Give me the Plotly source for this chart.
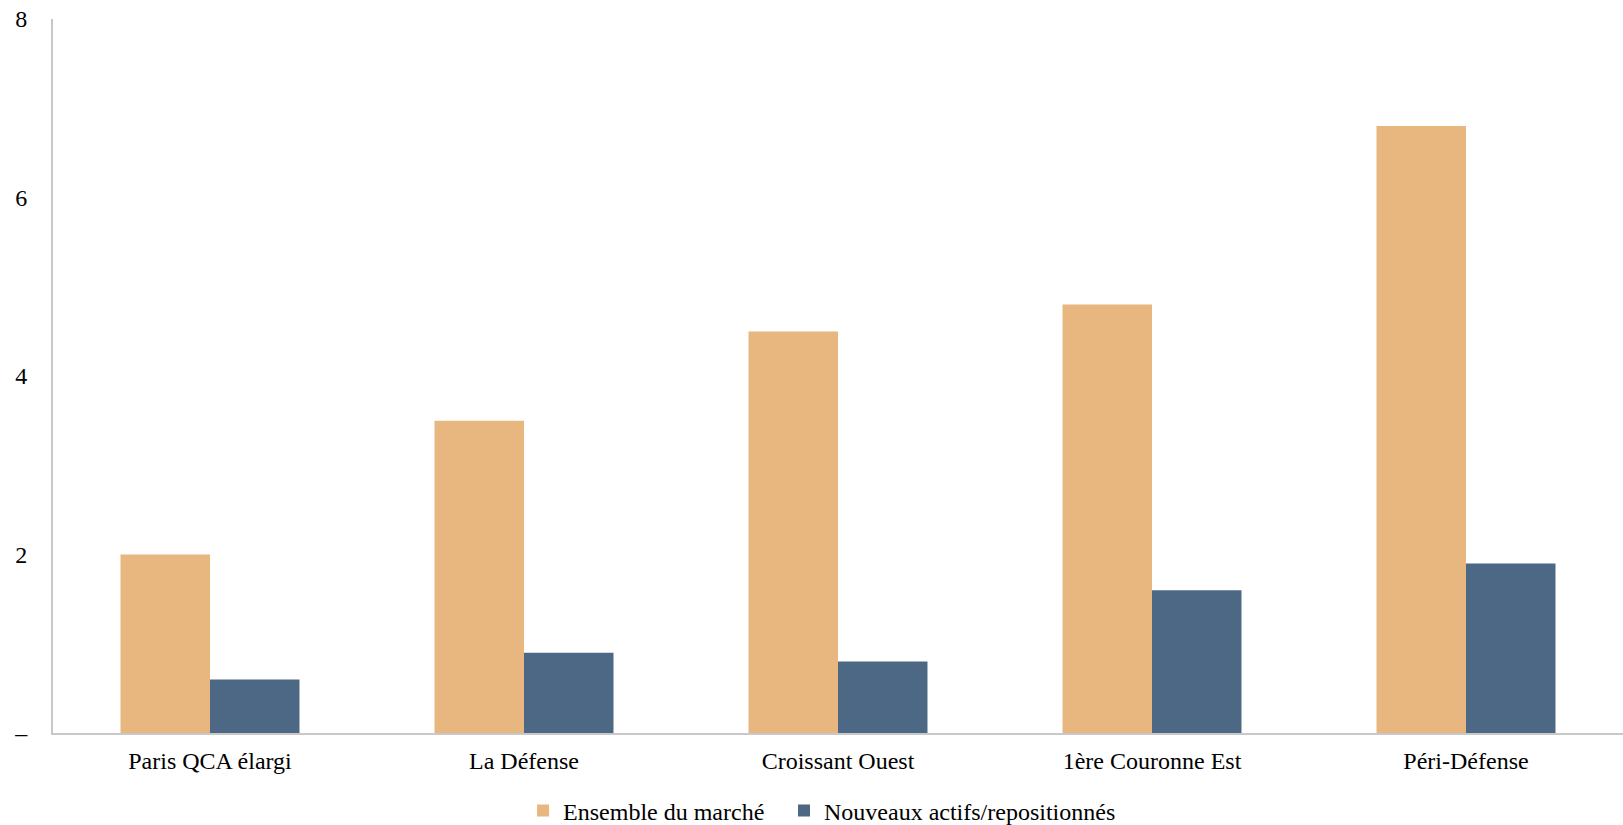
import plotly.graph_objects as go

categories = ["Paris QCA élargi", "La Défense", "Croissant Ouest", "1ère Couronne Est", "Péri-Défense"]
ensemble = [2.0, 3.5, 4.5, 4.8, 6.8]
nouveaux = [0.6, 0.9, 0.8, 1.6, 1.9]
y_tickvals = [0, 2, 4, 6, 8]
y_ticktext = ["–", "2", "4", "6", "8"]

fig = go.Figure()
fig.add_trace(go.Bar(x=categories, y=ensemble, name="Ensemble du marché",
                     marker=dict(color="#E8B67F", line=dict(width=0)), legend="legend"))
fig.add_trace(go.Bar(x=categories, y=nouveaux, name="Nouveaux actifs/repositionnés",
                     marker=dict(color="#4D6884", line=dict(width=0)), legend="legend2"))

font = dict(family="Liberation Serif, Times New Roman, serif", size=24, color="#000000")
leg = dict(orientation="h", y=-0.109, yanchor="middle", xanchor="left",
           font=font, itemwidth=30, bgcolor="rgba(0,0,0,0)")
fig.update_layout(
    width=1623, height=825,
    margin=dict(l=53, r=0, t=19, b=92, autoexpand=False),
    plot_bgcolor="white", paper_bgcolor="white",
    barmode="group", bargap=0.43, bargroupgap=0,
    font=font,
    showlegend=True,
    legend=dict(leg, x=0.2994),
    legend2=dict(leg, x=0.4656),
)
fig.update_xaxes(showline=True, linecolor="#C8C8C8", linewidth=2, showgrid=False,
                 automargin=False,
                 ticks="outside", ticklen=5, tickcolor="rgba(0,0,0,0)", tickfont=font)
fig.update_yaxes(showline=True, linecolor="#C8C8C8", linewidth=2, showgrid=False,
                 automargin=False,
                 range=[0, 8], tickvals=y_tickvals, ticktext=y_ticktext,
                 ticks="outside", ticklen=19, tickcolor="rgba(0,0,0,0)", tickfont=font,
                 zeroline=False)

fig.write_html("out.html", config={"displayModeBar": False},
               post_script="document.body.style.margin='0';")
